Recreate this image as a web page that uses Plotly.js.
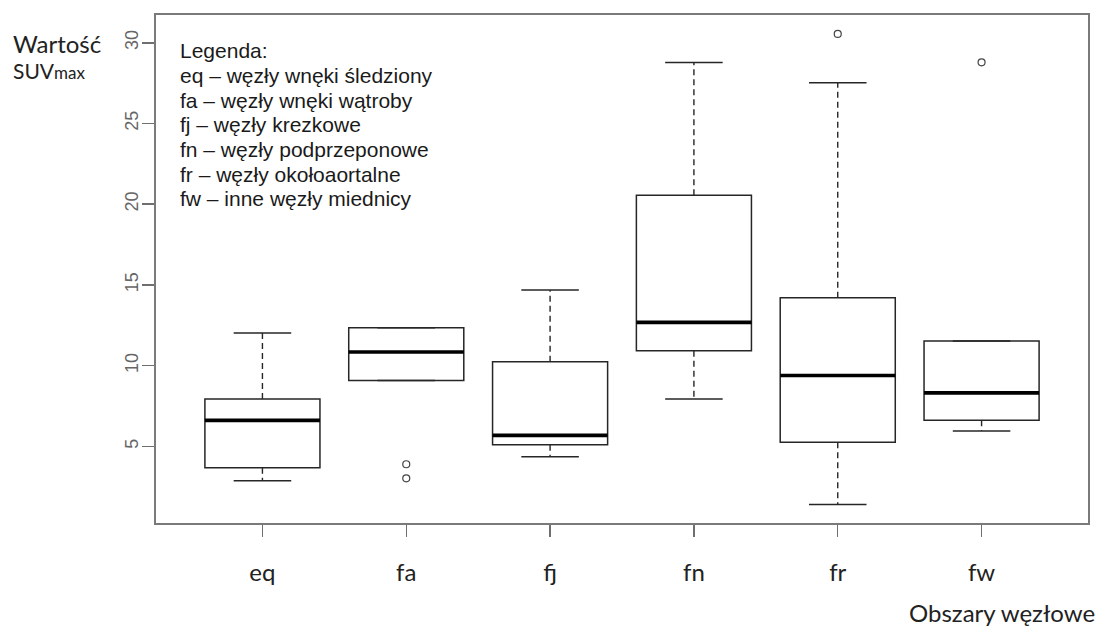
<!DOCTYPE html>
<html>
<head>
<meta charset="utf-8">
<script src="https://cdn.plot.ly/plotly-3.0.1.min.js"></script>
<style>html,body{margin:0;padding:0;background:#fff;}#chart{width:1101px;height:626px;}</style>
</head>
<body>
<div id="chart"></div>
<script>
// ---- data ----
const categories = ["eq", "fa", "fj", "fn", "fr", "fw"];
const lowerWhisker = [2.86, 9.08, 4.36, 7.93, 1.39, 5.95];
const q1Values     = [3.68, 9.08, 5.09, 10.92, 5.25, 6.61];
const medianValues = [6.61, 10.84, 5.68, 12.68, 9.39, 8.31];
const q3Values     = [7.93, 12.35, 10.24, 20.56, 14.20, 11.53];
const upperWhisker = [12.02, 12.35, 14.68, 28.77, 27.52, 11.53];
const outlierCategory = ["fa", "fa", "fr", "fw"];
const outlierValues   = [3.89, 3.02, 30.55, 28.79];
const yTickValues = [5, 10, 15, 20, 25, 30];
const legendLines = [
  "Legenda:",
  "eq – węzły wnęki śledziony",
  "fa – węzły wnęki wątroby",
  "fj – węzły krezkowe",
  "fn – węzły podprzeponowe",
  "fr – węzły okołoaortalne",
  "fw – inne węzły miednicy"
];
const yTitleLine1 = "Wartość";
const yTitleLine2 = "SUV<span style='font-size:17px'>max</span>";
const xTitle = "Obszary węzłowe";

// ---- geometry helpers ----
const W = 1101, H = 626;
const M = {l: 156, r: 13, t: 15, b: 103};
const PW = W - M.l - M.r, PH = H - M.t - M.b;
const px = x => (x - M.l) / PW;
const py = y => (H - M.b - y) / PH;

const pos = categories.map((c, i) => i + 1);
const boxHalf = 0.4, capHalf = 0.2;

const lineCol = "#262626";

const boxTrace = {
  type: "box",
  x: pos,
  q1: q1Values,
  median: medianValues,
  q3: q3Values,
  lowerfence: q1Values,
  upperfence: q3Values,
  width: 2 * boxHalf,
  whiskerwidth: 0,
  boxpoints: false,
  fillcolor: "rgba(255,255,255,0)",
  line: {color: lineCol, width: 1.5},
  hoverinfo: "skip"
};

const wx = [], wy = [], cx = [], cy = [], mx = [], my = [];
pos.forEach((p, i) => {
  wx.push(p, p, null, p, p, null);
  wy.push(q3Values[i], upperWhisker[i], null, q1Values[i], lowerWhisker[i], null);
  cx.push(p - capHalf, p + capHalf, null, p - capHalf, p + capHalf, null);
  cy.push(upperWhisker[i], upperWhisker[i], null, lowerWhisker[i], lowerWhisker[i], null);
  mx.push(p - boxHalf, p + boxHalf, null);
  my.push(medianValues[i], medianValues[i], null);
});

const whiskers = {type: "scatter", mode: "lines", x: wx, y: wy,
  line: {color: lineCol, width: 1.4, dash: "6px,4px"}, hoverinfo: "skip"};
const caps = {type: "scatter", mode: "lines", x: cx, y: cy,
  line: {color: lineCol, width: 1.5}, hoverinfo: "skip"};
const medians = {type: "scatter", mode: "lines", x: mx, y: my,
  line: {color: "#000", width: 3.6}, hoverinfo: "skip"};
const outliers = {type: "scatter", mode: "markers",
  x: outlierCategory.map(c => categories.indexOf(c) + 1), y: outlierValues,
  marker: {symbol: "circle-open", size: 7, color: "#444", line: {width: 1.2, color: "#444"}},
  hoverinfo: "skip"};

const annotations = [];
legendLines.forEach((t, i) => {
  annotations.push({xref: "paper", yref: "paper", x: px(178), y: py(51 + 24.6 * i),
    xanchor: "left", yanchor: "middle", showarrow: false, text: t,
    font: {family: "Liberation Sans, Arial, sans-serif", size: 21, color: "#1a1a1a"}});
});
annotations.push({xref: "paper", yref: "paper", x: px(11), y: py(43), xanchor: "left", yanchor: "middle",
  showarrow: false, text: yTitleLine1, font: {family: "Lato, sans-serif", size: 24, color: "#222"}});
annotations.push({xref: "paper", yref: "paper", x: px(11), y: py(70), xanchor: "left", yanchor: "middle",
  showarrow: false, text: yTitleLine2, font: {family: "Lato, sans-serif", size: 21, color: "#222"}});
annotations.push({xref: "paper", yref: "paper", x: px(1097), y: py(612), xanchor: "right", yanchor: "middle",
  showarrow: false, text: xTitle, font: {family: "Lato, sans-serif", size: 24, color: "#222"}});

const layout = {
  width: W, height: H,
  margin: M,
  paper_bgcolor: "#fff", plot_bgcolor: "#fff",
  showlegend: false,
  hovermode: false,
  xaxis: {
    range: [0.26, 6.74],
    tickvals: pos, ticktext: categories,
    ticks: "outside", ticklen: 12, tickwidth: 1.5, tickcolor: "#6f6f6f",
    tickfont: {family: "Lato, sans-serif", size: 24, color: "#222"},
    ticklabelstandoff: 16,
    showline: true, mirror: true, linecolor: "#7a7a7a", linewidth: 1.6,
    showgrid: false, zeroline: false
  },
  yaxis: {
    range: [0.25, 31.72],
    tickvals: yTickValues,
    ticktext: yTickValues.map(String),
    tickangle: -90,
    ticks: "outside", ticklen: 12, tickwidth: 1.5, tickcolor: "#6f6f6f",
    tickfont: {family: "Liberation Sans, Arial, sans-serif", size: 18, color: "#666"},
    ticklabelstandoff: -3,
    showline: true, mirror: true, linecolor: "#7a7a7a", linewidth: 1.6,
    showgrid: false, zeroline: false
  },
  annotations: annotations
};

Plotly.newPlot("chart", [boxTrace, whiskers, caps, medians, outliers], layout, {displayModeBar: false, staticPlot: true});
</script>
</body>
</html>
